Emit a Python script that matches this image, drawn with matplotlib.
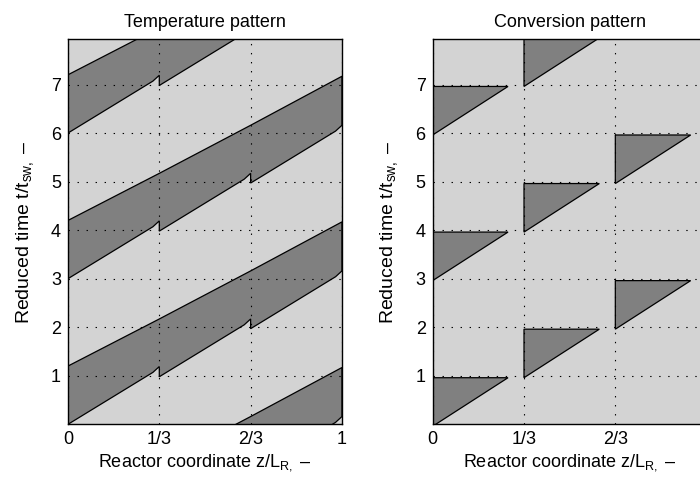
import matplotlib
matplotlib.use("Agg")
import matplotlib.pyplot as plt
from matplotlib.patches import Polygon

plt.rcParams['font.family'] = ['Liberation Sans', 'DejaVu Sans']
plt.rcParams['mathtext.fontset'] = 'custom'
plt.rcParams['mathtext.rm'] = 'Liberation Sans'
plt.rcParams['mathtext.it'] = 'Liberation Sans:italic'
plt.rcParams['lines.scale_dashes'] = False

# ---- data ----
x_ticks = [0, 1/3, 2/3, 1]
x_ticklabels_left = ['0', '1/3', '2/3', '1']
x_ticklabels_right = ['0', '1/3', '2/3', '']   # the "1" falls outside the figure
y_ticks = [1, 2, 3, 4, 5, 6, 7]
y_max = 7.93

# temperature pattern: bands repeat every 3 switching periods
band_starts = [-3, 0, 3, 6]
section_edges = [0, 1/3, 2/3]
lower_section_start = [0.0, 0.98, 1.97]      # lower front at each section inlet
lower_profile_x = [0.0, 0.31, 1/3]            # position within a section
lower_profile_dt = [0.0, 1.07, 1.19]          # rise of the lower front within a section
upper_x = [0, 1/3, 2/3, 1]
upper_t = [1.20, 2.17, 3.16, 4.17]

# conversion pattern: triangles (section index, bottom time)
tri_section = [0, 0, 0, 1, 1, 1, 2, 2]
tri_bottom = [-0.04, 2.96, 5.96, 0.96, 3.96, 6.96, 1.96, 4.96]
tri_height = 1.0
tri_width = 0.275

light = '#d3d3d3'
dark = '#808080'
FS = 13

fig = plt.figure(figsize=(7, 4.8), dpi=100)
axL = fig.add_axes([0.0971, 0.116, 0.3914, 0.802])
axR = fig.add_axes([0.6181, 0.116, 0.3914, 0.802])

def style(ax, title, xtl):
    ax.set_facecolor(light)
    ax.set_xlim(0, 1)
    ax.set_ylim(0, y_max)
    ax.set_xticks(x_ticks)
    ax.set_xticklabels(xtl)
    ax.set_yticks(y_ticks)
    ax.tick_params(direction='in', length=0, labelsize=FS, pad=5)
    ax.grid(True, color='black', linestyle=(0, (1.0, 5.5)), linewidth=0.8)
    ax.set_axisbelow(False)
    for s in ax.spines.values():
        s.set_linewidth(1.0)
        s.set_zorder(5)
    ax.set_title(title, fontsize=FS, pad=9)
    ax.set_xlabel(r'Reactor coordinate z/L$_{\mathrm{R,}}$ –', fontsize=FS, labelpad=3)
    ax.set_ylabel(r'Reduced time t/t$_{\mathrm{sw,}}$ –', fontsize=14, labelpad=11)

style(axL, 'Temperature pattern', x_ticklabels_left)
style(axR, 'Conversion pattern', x_ticklabels_right)

# temperature bands
for b in band_starts:
    pts = []
    for k, x0 in enumerate(section_edges):
        for px, dt in zip(lower_profile_x, lower_profile_dt):
            pts.append((x0 + px, b + lower_section_start[k] + dt))
    for ux, ut in zip(upper_x[::-1], upper_t[::-1]):
        pts.append((ux, b + ut))
    poly = Polygon(pts, closed=True, facecolor=dark, edgecolor='black',
                   linewidth=0.9, zorder=1)
    axL.add_patch(poly)

# conversion triangles
for k, b in zip(tri_section, tri_bottom):
    x0 = section_edges[k]
    pts = [(x0, b), (x0 + tri_width, b + tri_height), (x0, b + tri_height)]
    poly = Polygon(pts, closed=True, facecolor=dark, edgecolor='black',
                   linewidth=0.9, zorder=1)
    axR.add_patch(poly)

fig.savefig('out.png', dpi=100)
